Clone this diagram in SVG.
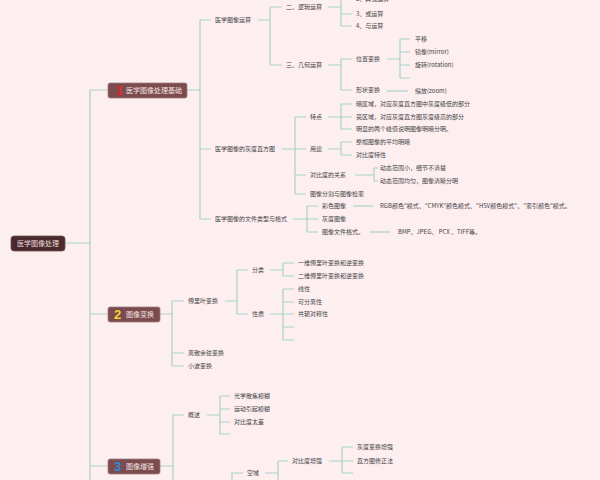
<svg xmlns="http://www.w3.org/2000/svg" width="600" height="480" viewBox="0 0 600 480">
<style>
.c{fill:none;stroke:#a8d3c6;stroke-width:1.2}
.t{font-family:"Noto Sans CJK SC","Liberation Sans",sans-serif;font-size:6px;fill:#444}
.n{font-family:"Noto Sans CJK SC","Liberation Sans",sans-serif;font-size:7px;fill:#333}
.b{fill:#7b4b4d;stroke:#a07f80;stroke-width:0.8}
.num{font-family:"Liberation Sans",sans-serif;font-size:13px;font-weight:bold}
</style>
<rect width="600" height="480" fill="#fdeef0"/>
<g id="connectors" class="c">
<path d="M64 243H90M90 90V480M90 90H108M90 314H108M90 466H108"/>
<path d="M187 90H200M200 20V219M200 20H211M200 149H211M200 219H211"/>
<path d="M258 20H270M270 7V65M270 7H282M270 65H282"/>
<path d="M328 7H341M341 -2V26M341 -1H352M341 14H352M341 26H352"/>
<path d="M328 65H341M341 59V90M341 59H352M341 90H352"/>
<path d="M387 59H400M400 39V78M400 39H410M400 52H410M400 65H410M400 78H410"/>
<path d="M387 91H408"/>
<path d="M282 149H295M295 117V194M295 117H306M295 149H306M295 175H306M295 194H306"/>
<path d="M328 117H341M341 104V129M341 104H352M341 117H352M341 129H352"/>
<path d="M328 149H341M341 142V155M341 142H352M341 155H352"/>
<path d="M355 175H374M374 168V181M374 168H378M374 181H378"/>
<path d="M293 219H307M307 206V232M307 206H318M307 219H318M307 232H318"/>
<path d="M353 206H373"/>
<path d="M370 232H390"/>
<path d="M160 314H172M172 301V366M172 301H184M172 353H184M172 366H184"/>
<path d="M225 301H237M237 270V314M237 270H248M237 314H248"/>
<path d="M270 270H283M283 263V276M283 263H294M283 276H294"/>
<path d="M270 314H283M283 289V340M283 289H294M283 302H294M283 314H294M283 327H294M283 340H294"/>
<path d="M160 466H173M173 415V480M173 415H184"/>
<path d="M207 415H220M220 396V434M220 396H230M220 409H230M220 422H230M220 434H230"/>
<path d="M232 480V473H243"/>
<path d="M265 473H278M278 461V480M278 461H288"/>
<path d="M329 461H342M342 447V473M342 447H353M342 461H353M342 473H353"/>
</g>
<g id="root"><rect x="11" y="236" width="54" height="15" rx="3" fill="#4a2a2d" stroke="#6d5052" stroke-width="0.8"/><text class="n" x="17" y="246" fill="#eee" style="fill:#eadbdc">医学图像处理</text></g>
<g id="n1"><rect class="b" x="108" y="83" width="79" height="15" rx="2"/><text class="num" x="116" y="95" fill="#e8242c">1</text><text class="n" x="126" y="93" style="fill:#f3e6e6">医学图像处理基础</text></g>
<g id="n2"><rect class="b" x="108" y="307" width="52" height="15" rx="2"/><text class="num" x="114" y="319" fill="#f5d33a">2</text><text class="n" x="126" y="317" style="fill:#f3e6e6">图像变换</text></g>
<g id="n3"><rect class="b" x="108" y="459" width="52" height="15" rx="2"/><text class="num" x="114" y="471" fill="#2a8fd8">3</text><text class="n" x="126" y="469" style="fill:#f3e6e6">图像增强</text></g>
<g id="leaves" class="t">
<text x="215" y="22">医学图像运算</text>
<text x="286" y="9">二、逻辑运算</text>
<text x="356" y="1">2、异或运算</text>
<text x="356" y="16">3、或运算</text>
<text x="356" y="28">4、与运算</text>
<text x="286" y="67">三、几何运算</text>
<text x="356" y="61">位置变换</text>
<text x="415" y="41">平移</text>
<text x="415" y="54">镜像(mirror)</text>
<text x="415" y="67">旋转(rotation)</text>
<text x="356" y="92">形状变换</text>
<text x="415" y="93">缩放(zoom)</text>
<text x="215" y="151">医学图像的灰度直方图</text>
<text x="310" y="119">特点</text>
<text x="356" y="106">暗区域，对应灰度直方图中灰度级低的部分</text>
<text x="356" y="119">亮区域，对应灰度直方图灰度级高的部分</text>
<text x="356" y="131">明显的两个峰值说明图像明暗分明。</text>
<text x="310" y="151">用途</text>
<text x="356" y="144">整幅图像的平均明暗</text>
<text x="356" y="157">对比度特性</text>
<text x="310" y="177">对比度的关系</text>
<text x="380" y="170">动态范围小，细节不清楚</text>
<text x="380" y="183">动态范围均匀，图像清晰分明</text>
<text x="310" y="196">图像分割与图像检索</text>
<text x="215" y="221">医学图像的文件类型与格式</text>
<text x="322" y="208">彩色图像</text>
<text x="380" y="208">RGB颜色"模式、"CMYK"颜色模式、"HSV颜色模式"、"索引颜色"模式。</text>
<text x="322" y="221">灰度图像</text>
<text x="322" y="234">图像文件格式。</text>
<text x="398" y="234">BMP、JPEG、 PCX 、TIFF等。</text>
<text x="188" y="303">傅里叶变换</text>
<text x="252" y="272">分类</text>
<text x="298" y="265">一维傅里叶变换和逆变换</text>
<text x="298" y="278">二维傅里叶变换和逆变换</text>
<text x="252" y="316">性质</text>
<text x="298" y="291">线性</text>
<text x="298" y="304">可分离性</text>
<text x="298" y="316">共轭对称性</text>
<text x="188" y="355">离散余弦变换</text>
<text x="188" y="368">小波变换</text>
<text x="188" y="417">概述</text>
<text x="234" y="398">光学散焦模糊</text>
<text x="234" y="411">运动引起模糊</text>
<text x="234" y="424">对比度太差</text>
<text x="247" y="475">空域</text>
<text x="292" y="463">对比度增强</text>
<text x="357" y="449">灰度变换增强</text>
<text x="357" y="463">直方图修正法</text>
</g>
</svg>
